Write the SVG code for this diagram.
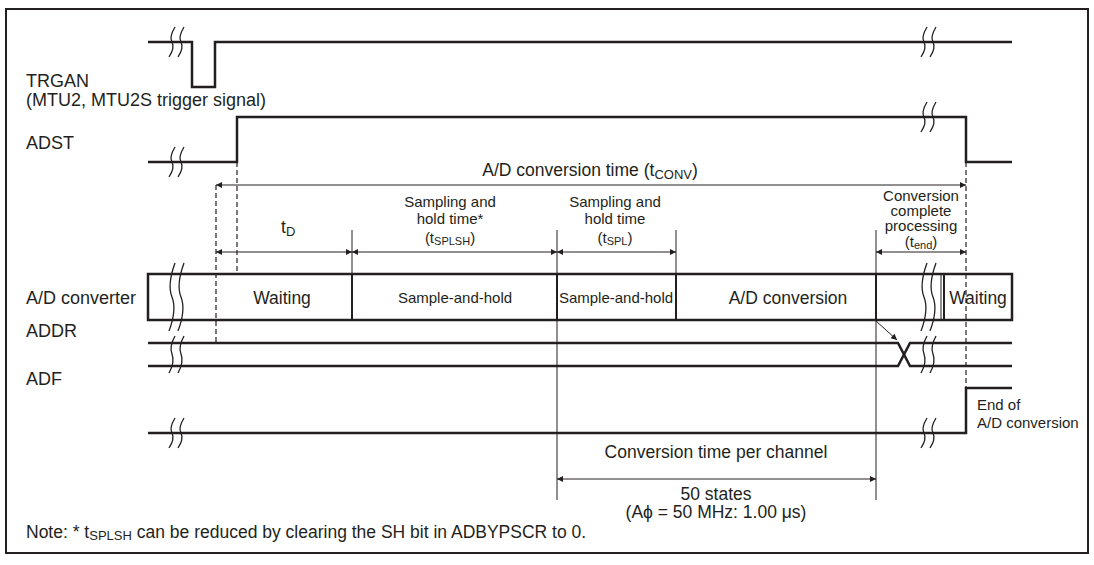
<svg xmlns="http://www.w3.org/2000/svg" width="1094" height="565" viewBox="0 0 1094 565">
<defs>
<style>
text{font-family:"Liberation Sans",Arial,Helvetica,sans-serif;fill:#231f20;font-size:17.5px}
.l{font-size:18px}
.s{font-size:15px}
.c{text-anchor:middle}
.sig{fill:none;stroke:#231f20;stroke-width:2.5;stroke-linejoin:miter}
.div{fill:none;stroke:#231f20;stroke-width:2}
.thin{fill:none;stroke:#231f20;stroke-width:1}
.dash{fill:none;stroke:#231f20;stroke-width:1.2;stroke-dasharray:5,3}
.brk{fill:none;stroke:#231f20;stroke-width:1.3}
.dim{fill:none;stroke:#231f20;stroke-width:1;marker-start:url(#ah);marker-end:url(#ah)}
</style>
<marker id="ah" viewBox="0 0 10 10" refX="10" refY="5" markerWidth="10" markerHeight="6" markerUnits="userSpaceOnUse" orient="auto-start-reverse">
<path d="M0,0 L10,5 L0,10 z" fill="#231f20"/>
</marker>
<marker id="ah1" viewBox="0 0 10 10" refX="10" refY="5" markerWidth="10" markerHeight="6" markerUnits="userSpaceOnUse" orient="auto">
<path d="M0,0 L10,5 L0,10 z" fill="#231f20"/>
</marker>
</defs>
<rect x="0" y="0" width="1094" height="565" fill="#fff"/>
<rect x="6" y="9" width="1082" height="544" fill="none" stroke="#231f20" stroke-width="2"/>

<g id="trgan">
<text class="l" x="26" y="87">TRGAN</text>
<text class="l" x="26" y="106">(MTU2, MTU2S trigger signal)</text>
<path class="sig" d="M148,42 H192 V87 H215 V42 H1012"/>
</g>
<g id="adst">
<text class="l" x="26" y="149">ADST</text>
<path class="sig" d="M148,162 H237 V117 H966 V162 H1012"/>
</g>
<g id="adconv">
<text class="l" x="26" y="304">A/D converter</text>
<rect class="sig" x="148" y="274" width="864" height="46"/>
<line class="div" x1="352" y1="274" x2="352" y2="320"/>
<line class="div" x1="557" y1="274" x2="557" y2="320"/>
<line class="div" x1="676" y1="274" x2="676" y2="320"/>
<line class="div" x1="876" y1="274" x2="876" y2="320"/>
<line class="div" x1="944" y1="274" x2="944" y2="320"/>
<line class="thin" x1="941" y1="274" x2="941" y2="320"/>
<text class="c" x="282" y="304">Waiting</text>
<text class="c s" x="455" y="303">Sample-and-hold</text>
<text class="c s" x="616" y="303">Sample-and-hold</text>
<text class="c" x="788" y="304" font-size="16">A/D conversion</text>
<text class="c" x="978" y="304">Waiting</text>
</g>
<g id="addr">
<text class="l" x="26" y="337">ADDR</text>
<path class="sig" d="M148,343 H898 L910,366 H1012"/>
<path class="sig" d="M148,366 H898 L910,343 H1012"/>
</g>
<g id="adf">
<text class="l" x="26" y="385">ADF</text>
<path class="sig" d="M148,433 H966 V388 H1012"/>
<text class="s" x="977" y="410">End of</text>
<text class="s" x="977" y="428">A/D conversion</text>
</g>

<g id="breaks">
<path class="brk" d="M175,27 Q169,37 172,42 Q175,48 169,57 M184,27 Q178,37 181,42 Q184,48 178,57"/>
<path class="brk" d="M175,147 Q169,157 172,162 Q175,168 169,177 M184,147 Q178,157 181,162 Q184,168 178,177"/>
<path class="brk" d="M175,263 Q167,285 172,297 Q177,310 169,331 M184,263 Q176,285 181,297 Q186,310 178,331"/>
<path class="brk" d="M175,336 Q169,347 172,354 Q175,362 169,373 M184,336 Q178,347 181,354 Q184,362 178,373"/>
<path class="brk" d="M175,418 Q169,428 172,433 Q175,439 169,448 M184,418 Q178,428 181,433 Q184,439 178,448"/>
<path class="brk" d="M927,27 Q921,37 924,42 Q927,48 921,57 M936,27 Q930,37 933,42 Q936,48 930,57"/>
<path class="brk" d="M927,102 Q921,112 924,117 Q927,123 921,132 M936,102 Q930,112 933,117 Q936,123 930,132"/>
<path class="brk" d="M927,263 Q919,285 924,297 Q929,310 921,331 M936,263 Q928,285 933,297 Q938,310 930,331"/>
<path class="brk" d="M927,336 Q921,347 924,354 Q927,362 921,373 M936,336 Q930,347 933,354 Q936,362 930,373"/>
<path class="brk" d="M927,418 Q921,428 924,433 Q927,439 921,448 M936,418 Q930,428 933,433 Q936,439 930,448"/>
</g>

<g id="connectors">
<line class="dash" x1="216" y1="185" x2="216" y2="342"/>
<line class="dash" x1="237" y1="162" x2="237" y2="274"/>
<line class="dash" x1="966" y1="162" x2="966" y2="388"/>
<line class="thin" x1="352" y1="230" x2="352" y2="274"/>
<line class="thin" x1="557" y1="230" x2="557" y2="500"/>
<line class="thin" x1="676" y1="230" x2="676" y2="274"/>
<line class="thin" x1="876" y1="230" x2="876" y2="500"/>
<line class="dim" x1="216" y1="185" x2="966" y2="185"/>
<line class="dim" x1="216" y1="252" x2="352" y2="252"/>
<line class="dim" x1="352" y1="252" x2="557" y2="252"/>
<line class="dim" x1="557" y1="252" x2="676" y2="252"/>
<line class="dim" x1="876" y1="252" x2="966" y2="252"/>
<line class="dim" x1="557" y1="479" x2="876" y2="479"/>
<line class="thin" x1="876" y1="321" x2="897" y2="340" marker-end="url(#ah1)"/>
</g>

<g id="labels">
<text class="c" x="590" y="176">A/D conversion time (t<tspan font-size="13" dy="3">CONV</tspan><tspan dy="-3">)</tspan></text>
<text x="281" y="233">t<tspan font-size="13" dy="3">D</tspan></text>
<text class="c s" x="450" y="207">Sampling and</text>
<text class="c s" x="450" y="224">hold time*</text>
<text class="c s" x="450" y="243">(t<tspan font-size="11" dy="2">SPLSH</tspan><tspan dy="-2">)</tspan></text>
<text class="c s" x="615" y="207">Sampling and</text>
<text class="c s" x="615" y="224">hold time</text>
<text class="c s" x="615" y="243">(t<tspan font-size="11" dy="2">SPL</tspan><tspan dy="-2">)</tspan></text>
<text class="c s" x="921" y="201">Conversion</text>
<text class="c s" x="921" y="216">complete</text>
<text class="c s" x="921" y="231">processing</text>
<text class="c s" x="921" y="247">(t<tspan font-size="11" dy="2">end</tspan><tspan dy="-2">)</tspan></text>
<text class="c" x="716" y="458">Conversion time per channel</text>
<text class="c" x="716" y="500">50 states</text>
<text class="c" x="716" y="518">(Aϕ = 50 MHz: 1.00 μs)</text>
<text x="26" y="538">Note: * t<tspan font-size="13" dy="2">SPLSH</tspan><tspan dy="-2"> can be reduced by clearing the SH bit in ADBYPSCR to 0.</tspan></text>
</g>
</svg>
